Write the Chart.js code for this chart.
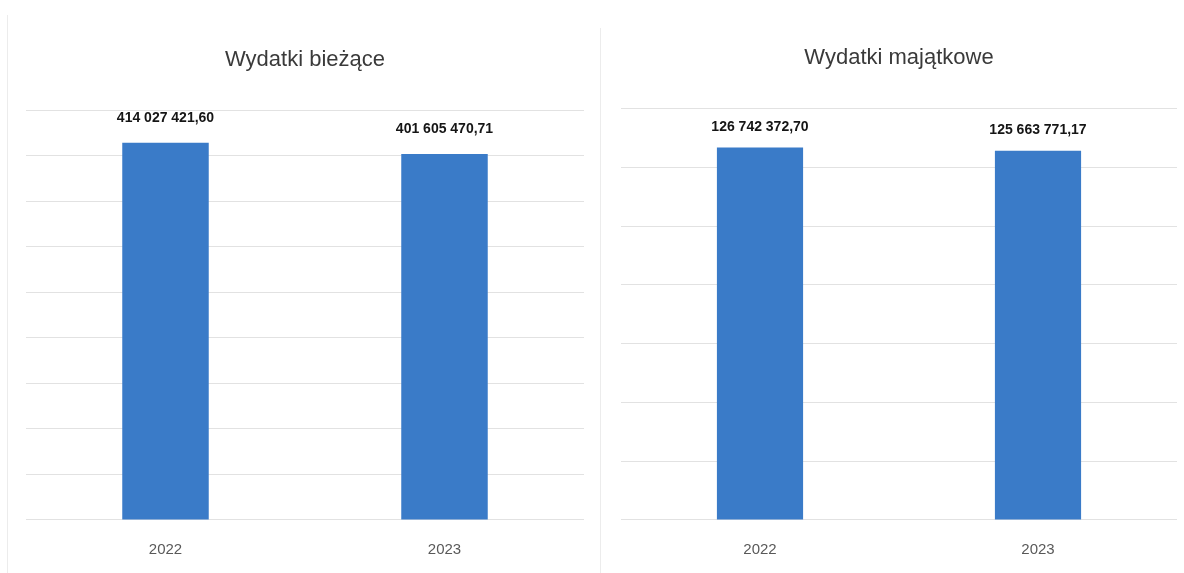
<!DOCTYPE html>
<html><head><meta charset="utf-8">
<script src="https://cdn.jsdelivr.net/npm/chart.js@4.4.0/dist/chart.umd.min.js"></script>
<style>
html,body{margin:0;padding:0;background:#fff;width:1184px;height:573px;overflow:hidden}
.panel{position:absolute;top:0;height:582px}
#p1{left:0;width:600px}
#p2{left:596px;width:588px}
.edge{position:absolute;width:1px;background:#ececec}
</style></head><body>
<div class="edge" style="left:7px;top:15px;height:558px"></div>
<div class="edge" style="left:600px;top:28px;height:545px"></div>
<div class="panel" id="p1"><canvas id="c1"></canvas></div>
<div class="panel" id="p2"><canvas id="c2"></canvas></div>
<script>
// ---- data ----
const categories = ['2022', '2023'];
const biezaceValues = [414027421.60, 401605470.71];
const majatkoweValues = [126742372.70, 125663771.17];
const biezaceTitle = 'Wydatki bieżące';
const majatkoweTitle = 'Wydatki majątkowe';
const biezaceAxis = [0, 450000000, 50000000];   // min, max, step
const majatkoweAxis = [0, 140000000, 20000000];

const FONT = '"Liberation Sans", Arial, sans-serif';

function plFormat(v) {
  const parts = v.toFixed(2).split('.');
  return parts[0].replace(/\B(?=(\d{3})+(?!\d))/g, ' ') + ',' + parts[1];
}

const valueLabels = {
  id: 'valueLabels',
  afterDatasetsDraw(chart, args, opts) {
    const ctx = chart.ctx;
    const meta = chart.getDatasetMeta(0);
    const data = chart.data.datasets[0].data;
    ctx.save();
    ctx.font = 'bold 14px ' + FONT;
    ctx.fillStyle = '#151515';
    ctx.textAlign = 'center';
    ctx.textBaseline = 'middle';
    meta.data.forEach((bar, i) => {
      ctx.fillText(plFormat(data[i]), bar.x, bar.y - opts.offset);
    });
    ctx.restore();
  }
};

function makeChart(id, values, title, axis, pad, titleBottom, labelOffset) {
  return new Chart(document.getElementById(id), {
    type: 'bar',
    data: {
      labels: categories,
      datasets: [{
        data: values,
        backgroundColor: '#3a7bc8',
        borderWidth: 0,
        barPercentage: 0.31,
        categoryPercentage: 1.0
      }]
    },
    plugins: [valueLabels],
    options: {
      responsive: true,
      maintainAspectRatio: false,
      animation: false,
      layout: { padding: pad },
      plugins: {
        legend: { display: false },
        tooltip: { enabled: false },
        title: {
          display: true,
          text: title,
          color: '#3a3a3a',
          font: { family: FONT, size: 22, weight: 'normal' },
          padding: { top: 0, bottom: titleBottom }
        },
        valueLabels: { offset: labelOffset }
      },
      scales: {
        x: {
          grid: { display: false, drawTicks: false },
          border: { display: false },
          ticks: {
            color: '#595959',
            padding: 20.8,
            font: { family: FONT, size: 15 }
          }
        },
        y: {
          min: axis[0],
          max: axis[1],
          grid: { color: '#e2e2e2', lineWidth: 1, drawTicks: false },
          border: { display: false },
          ticks: { display: false, stepSize: axis[2] }
        }
      }
    }
  });
}

makeChart('c1', biezaceValues, biezaceTitle, biezaceAxis,
  { left: 26, right: 16, top: 46.3, bottom: 2.5 }, 37.3, 25);
makeChart('c2', majatkoweValues, majatkoweTitle, majatkoweAxis,
  { left: 25, right: 7, top: 44.3, bottom: 2.5 }, 37.8, 20.5);
</script>
</body></html>
